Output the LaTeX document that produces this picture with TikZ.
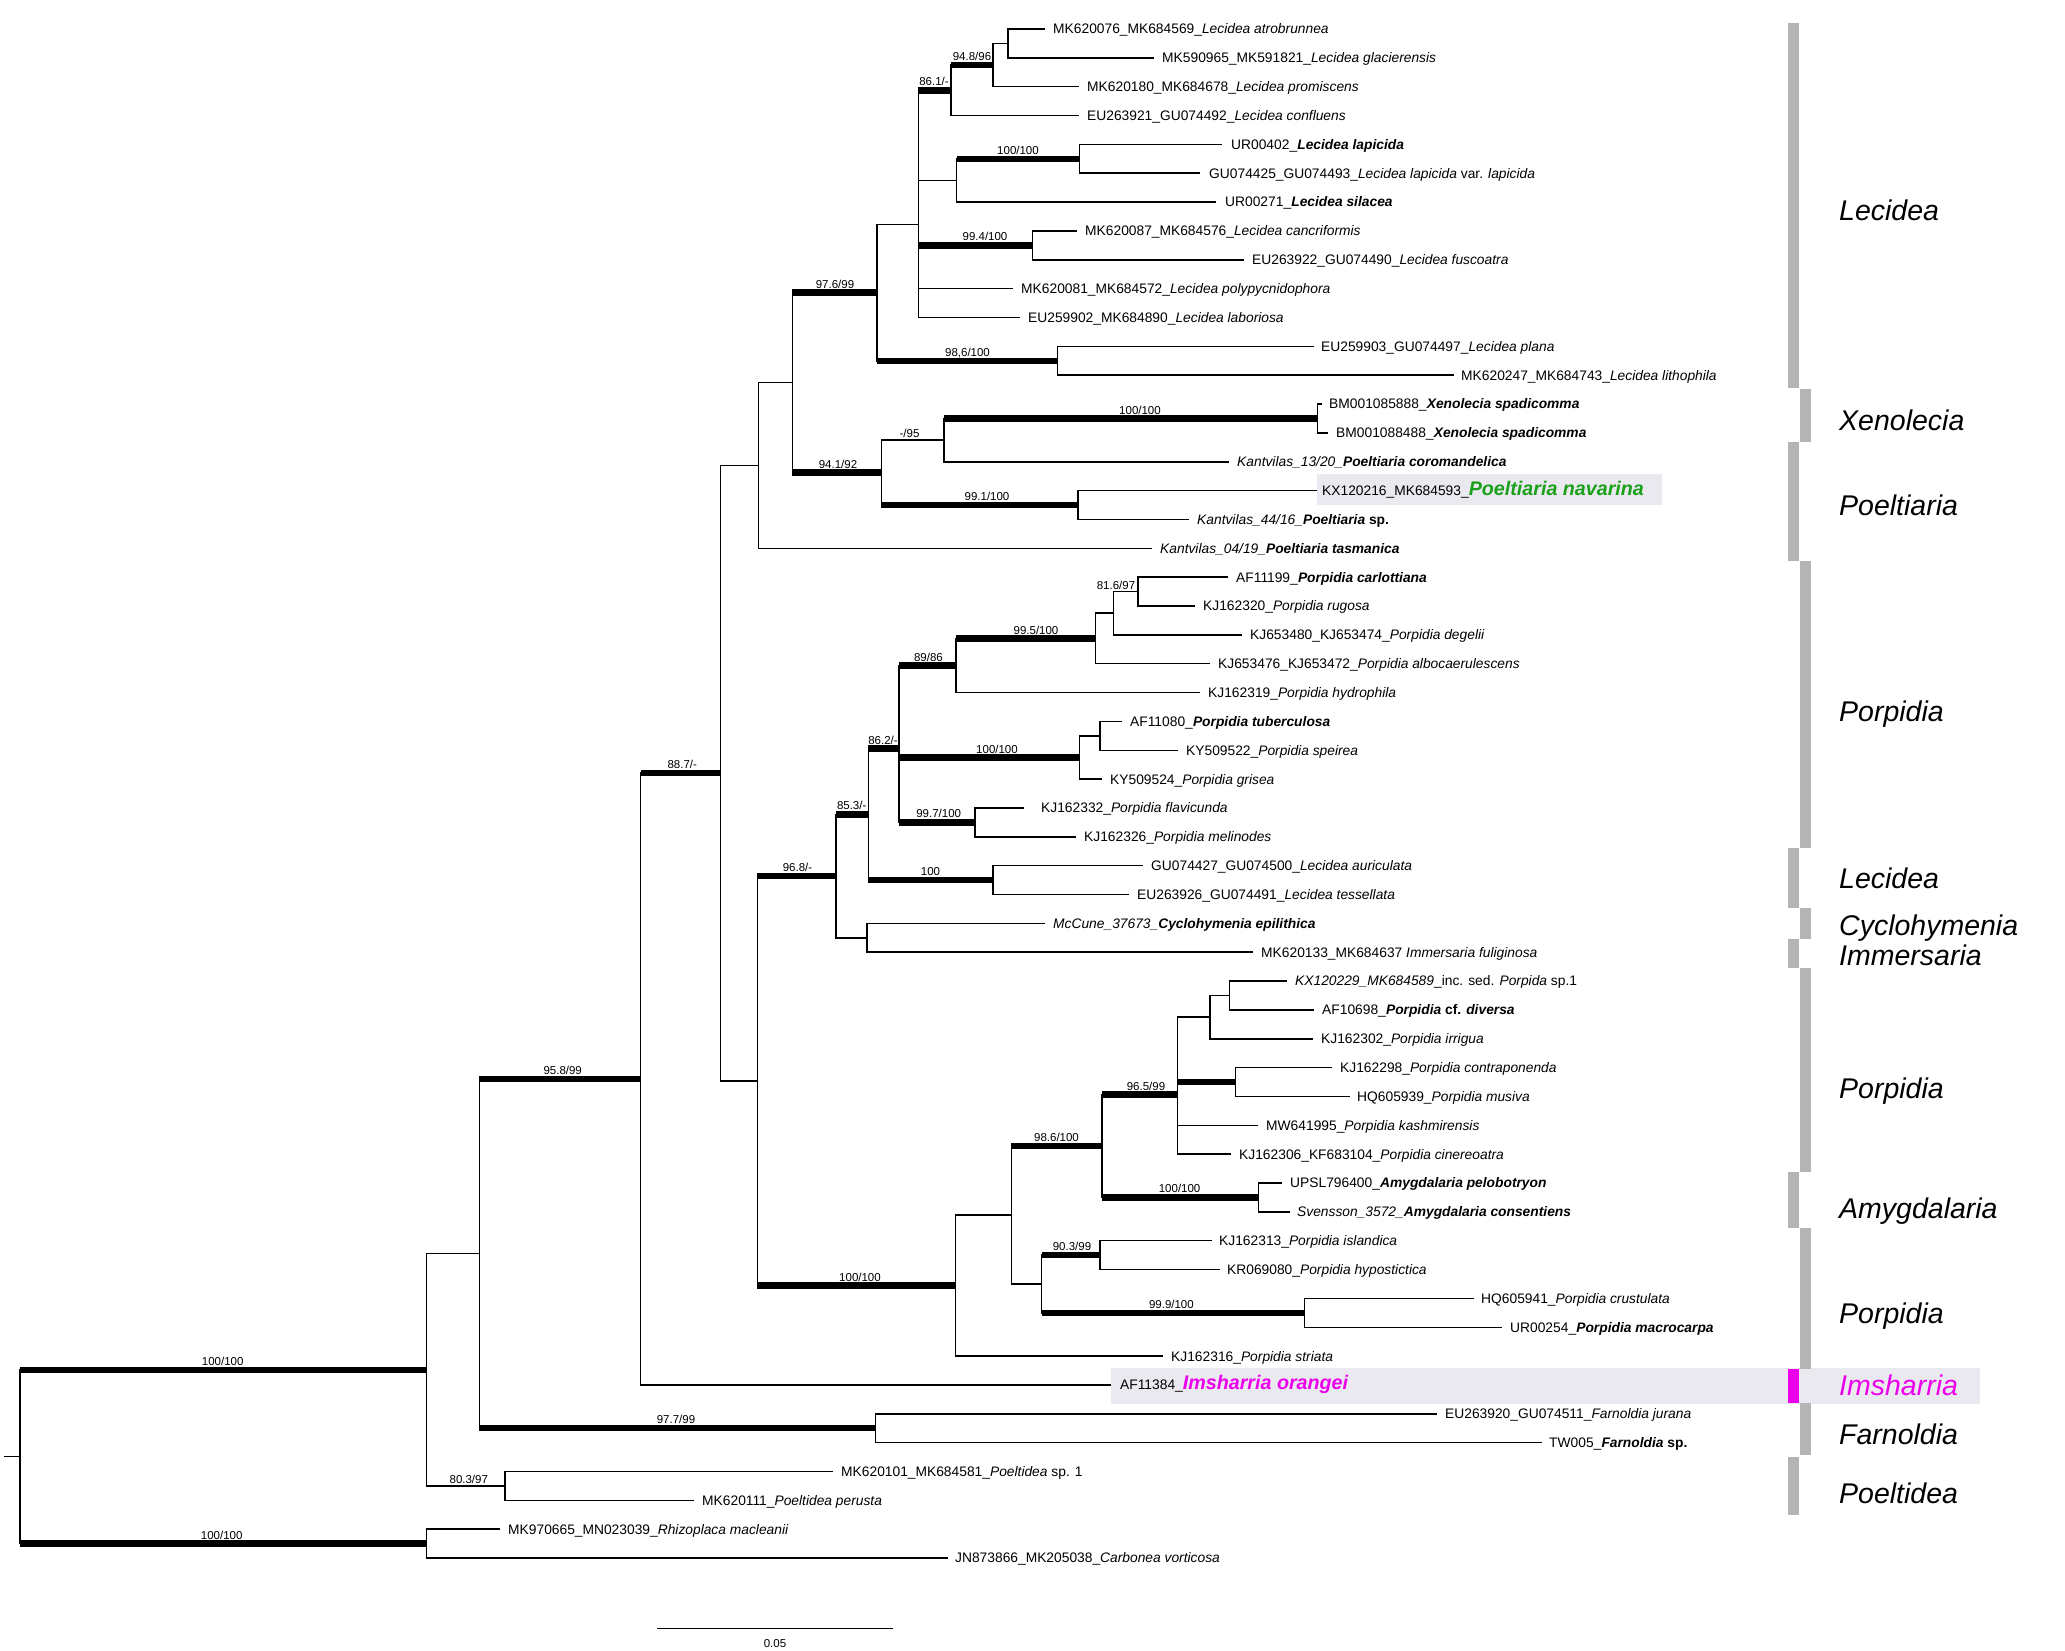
\documentclass[tikz,border=0pt]{standalone}
\usepackage{fontspec}
\setmainfont{Liberation Sans}
\usetikzlibrary{calc}
\definecolor{hlgray}{RGB}{233,233,239}
\definecolor{bargray}{RGB}{180,180,180}
\definecolor{mag}{RGB}{236,0,236}
\definecolor{grn}{RGB}{26,160,26}
\newcommand\bfit[1]{\textbf{\textit{#1}}}
\newcommand\leafx[6]{\coordinate (t#1) at (#3,#2); \draw[tl] (#5) |- (t#1); \node[leaf] (l#1) at (#4,#2+4.9) {#6};}
\newcommand\eN[2]{\draw[tl] (#1) |- (#2);}
\newcommand\eT[2]{\draw[tl] (#1) |- (#2); \draw[tk] (#1 |- #2) -- (#2);}
\newcommand\blab[4]{\node[bl] (#1) at (#2,#3) {#4};}
\newcommand\clab[3]{\node[clade] (#1) at (1839,#2) {#3};}
\begin{document}
\begin{tikzpicture}[x=1pt,y=-1pt,
  tl/.style={line width=1.5pt},
  tk/.style={line width=6.5pt},
  leaf/.style={anchor=base west, inner sep=0pt, font=\fontsize{13.8}{16}\selectfont},
  bl/.style={anchor=base, inner sep=0pt, font=\fontsize{11.5}{13}\selectfont},
  clade/.style={anchor=base west, inner sep=0pt, font=\fontsize{28.5}{32}\selectfont\itshape},
  bar/.style={fill=bargray, draw=none},
  hl/.style={fill=hlgray, draw=none}]
\useasboundingbox (0,0) rectangle (2065,1651);
% highlight boxes
\fill[hl] (1317,474.3) rectangle (1662,505);
\fill[hl] (1111,1367.7) rectangle (1980,1404);
% clade bars
\fill[bar] (1788,23.3) rectangle (1799,388.3);
\fill[bar] (1800,389.3) rectangle (1811,441.7);
\fill[bar] (1788,441.7) rectangle (1799,561);
\fill[bar] (1800,561) rectangle (1811,847.7);
\fill[bar] (1788,847.7) rectangle (1799,908.3);
\fill[bar] (1800,908.3) rectangle (1811,939);
\fill[bar] (1788,939) rectangle (1799,967.7);
\fill[bar] (1800,967.7) rectangle (1811,1171.7);
\fill[bar] (1788,1171.7) rectangle (1799,1227.7);
\fill[bar] (1800,1227.7) rectangle (1811,1369);
\fill[mag] (1788,1369) rectangle (1799,1403);
\fill[bar] (1800,1403) rectangle (1811,1455);
\fill[bar] (1788,1457) rectangle (1799,1515);
% internal nodes
\coordinate (stub) at (4,1456.7);
\coordinate (root) at (20,1456.7);
\coordinate (nAS) at (426.7,1369.8);
\coordinate (nAT) at (426.7,1543.6);
\coordinate (nAQ) at (479.3,1253.6);
\coordinate (nAR) at (505,1485.9);
\coordinate (nAO) at (640.7,1079);
\coordinate (nAP) at (875.7,1428.2);
\coordinate (nAN) at (720.7,773.1);
\coordinate (nAM) at (757.3,1080.8);
\coordinate (nO) at (758.4,465.45);
\coordinate (nN) at (792.3,382.6);
\coordinate (nI) at (877.2,292.6);
\coordinate (nG) at (918.4,224.46);
\coordinate (nC) at (950.8,90.3);
\coordinate (nB) at (993,65.06);
\coordinate (nA) at (1008,43.43);
\coordinate (nE) at (956.7,180.45);
\coordinate (nD) at (1079.3,158.8);
\coordinate (nF) at (1032.3,245.4);
\coordinate (nH) at (1057.5,360.78);
\coordinate (nM) at (881.4,472.6);
\coordinate (nK) at (944.2,440.1);
\coordinate (nJ) at (1317.6,418.48);
\coordinate (nL) at (1077.9,505.03);
\coordinate (nAA) at (836,876.05);
\coordinate (nY) at (868.4,814.3);
\coordinate (nW) at (899,748.45);
\coordinate (nS) at (956,665.5);
\coordinate (nR) at (1095.7,638.45);
\coordinate (nQ) at (1113.6,613.2);
\coordinate (nP) at (1138,591.6);
\coordinate (nU) at (1079.3,757.45);
\coordinate (nT) at (1100,735.8);
\coordinate (nV) at (975,822.4);
\coordinate (nX) at (993,880.1);
\coordinate (nZ) at (867,937.8);
\coordinate (nAL) at (955.7,1285.55);
\coordinate (nAK) at (1011.4,1215);
\coordinate (nAG) at (1102,1146);
\coordinate (nAE) at (1177.7,1094.6);
\coordinate (nAC) at (1210,1017.1);
\coordinate (nAB) at (1229.5,995.45);
\coordinate (nAD) at (1235.4,1082.0);
\coordinate (nAF) at (1258.6,1197.4);
\coordinate (nAJ) at (1041.5,1284);
\coordinate (nAH) at (1100,1255.1);
\coordinate (nAI) at (1304.7,1312.8);
% internal edges
\draw[tl] (stub) -- (root);
\eT{root}{nAS} \eT{root}{nAT}
\eN{nAS}{nAQ} \eN{nAS}{nAR}
\eT{nAQ}{nAO} \eT{nAQ}{nAP}
\eT{nAO}{nAN}
\eN{nAN}{nO} \eN{nAN}{nAM}
\eN{nO}{nN}
\eT{nN}{nI} \eT{nN}{nM}
\eN{nI}{nG} \eT{nI}{nH}
\eT{nG}{nC} \eN{nG}{nE} \eT{nG}{nF}
\eT{nC}{nB} \eN{nB}{nA}
\eT{nE}{nD}
\eN{nM}{nK} \eT{nM}{nL}
\eT{nK}{nJ}
\eT{nAM}{nAA} \eT{nAM}{nAL}
\eT{nAA}{nY} \eN{nAA}{nZ}
\eT{nY}{nW} \eT{nY}{nX}
\eT{nW}{nS} \eT{nW}{nU} \eT{nW}{nV}
\eT{nS}{nR} \eN{nR}{nQ} \eN{nQ}{nP}
\eN{nU}{nT}
\eN{nAL}{nAK}
\eT{nAK}{nAG} \eN{nAK}{nAJ}
\eT{nAG}{nAE} \eT{nAG}{nAF}
\eN{nAE}{nAC} \eT{nAE}{nAD} \eN{nAC}{nAB}
\eT{nAJ}{nAH} \eT{nAJ}{nAI}
% leaves
\leafx{1}{29}{1045}{1053}{nA}{MK620076\_MK684569\_\textit{Lecidea atrobrunnea}}
\leafx{2}{57.85}{1154}{1162}{nA}{MK590965\_MK591821\_\textit{Lecidea glacierensis}}
\leafx{3}{86.7}{1079}{1087}{nB}{MK620180\_MK684678\_\textit{Lecidea promiscens}}
\leafx{4}{115.55}{1079}{1087}{nC}{EU263921\_GU074492\_\textit{Lecidea confluens}}
\leafx{5}{144.4}{1222}{1231}{nD}{UR00402\_\bfit{Lecidea lapicida}}
\leafx{6}{173.25}{1200}{1209}{nD}{GU074425\_GU074493\_\textit{Lecidea lapicida} var. \textit{lapicida}}
\leafx{7}{202.1}{1216}{1225}{nE}{UR00271\_\bfit{Lecidea silacea}}
\leafx{8}{230.95}{1077}{1085}{nF}{MK620087\_MK684576\_\textit{Lecidea cancriformis}}
\leafx{9}{259.8}{1244}{1252}{nF}{EU263922\_GU074490\_\textit{Lecidea fuscoatra}}
\leafx{10}{288.65}{1013}{1021}{nG}{MK620081\_MK684572\_\textit{Lecidea polypycnidophora}}
\leafx{11}{317.5}{1020}{1028}{nG}{EU259902\_MK684890\_\textit{Lecidea laboriosa}}
\leafx{12}{346.35}{1314}{1321}{nH}{EU259903\_GU074497\_\textit{Lecidea plana}}
\leafx{13}{375.2}{1454}{1461}{nH}{MK620247\_MK684743\_\textit{Lecidea lithophila}}
\leafx{14}{404.05}{1322}{1329}{nJ}{BM001085888\_\bfit{Xenolecia spadicomma}}
\leafx{15}{432.9}{1328}{1336}{nJ}{BM001088488\_\bfit{Xenolecia spadicomma}}
\leafx{16}{461.75}{1229}{1237}{nK}{\textit{Kantvilas\_13/20\_}\bfit{Poeltiaria coromandelica}}
\leafx{17}{490.6}{1317}{1322}{nL}{KX120216\_MK684593\_{\color{grn}\fontsize{19.7}{22}\selectfont\bfit{Poeltiaria navarina}}}
\leafx{18}{519.45}{1189}{1197}{nL}{\textit{Kantvilas\_44/16\_}\textbf{\textit{Poeltiaria} sp.}}
\leafx{19}{548.3}{1152}{1160}{nO}{\textit{Kantvilas\_04/19\_}\bfit{Poeltiaria tasmanica}}
\leafx{20}{577.15}{1228}{1236}{nP}{AF11199\_\bfit{Porpidia carlottiana}}
\leafx{21}{606}{1195}{1203}{nP}{KJ162320\_\textit{Porpidia rugosa}}
\leafx{22}{634.85}{1242}{1250}{nQ}{KJ653480\_KJ653474\_\textit{Porpidia degelii}}
\leafx{23}{663.7}{1210}{1218}{nR}{KJ653476\_KJ653472\_\textit{Porpidia albocaerulescens}}
\leafx{24}{692.55}{1200}{1208}{nS}{KJ162319\_\textit{Porpidia hydrophila}}
\leafx{25}{721.4}{1122}{1130}{nT}{AF11080\_\bfit{Porpidia tuberculosa}}
\leafx{26}{750.25}{1178}{1186}{nT}{KY509522\_\textit{Porpidia speirea}}
\leafx{27}{779.1}{1102}{1110}{nU}{KY509524\_\textit{Porpidia grisea}}
\leafx{28}{807.95}{1024}{1041}{nV}{KJ162332\_\textit{Porpidia flavicunda}}
\leafx{29}{836.8}{1076}{1084}{nV}{KJ162326\_\textit{Porpidia melinodes}}
\leafx{30}{865.65}{1143}{1151}{nX}{GU074427\_GU074500\_\textit{Lecidea auriculata}}
\leafx{31}{894.5}{1129}{1137}{nX}{EU263926\_GU074491\_\textit{Lecidea tessellata}}
\leafx{32}{923.35}{1045}{1053}{nZ}{\textit{McCune\_37673\_}\bfit{Cyclohymenia epilithica}}
\leafx{33}{952.2}{1253}{1261}{nZ}{MK620133\_MK684637 \textit{Immersaria fuliginosa}}
\leafx{34}{981.05}{1287}{1295}{nAB}{\textit{KX120229\_MK684589}\_inc. sed. \textit{Porpida} sp.1}
\leafx{35}{1009.9}{1314}{1322}{nAB}{AF10698\_\textbf{\textit{Porpidia} cf. \textit{diversa}}}
\leafx{36}{1038.75}{1313}{1321}{nAC}{KJ162302\_\textit{Porpidia irrigua}}
\leafx{37}{1067.6}{1332}{1340}{nAD}{KJ162298\_\textit{Porpidia contraponenda}}
\leafx{38}{1096.45}{1350}{1357}{nAD}{HQ605939\_\textit{Porpidia musiva}}
\leafx{39}{1125.3}{1258}{1266}{nAE}{MW641995\_\textit{Porpidia kashmirensis}}
\leafx{40}{1154.15}{1231}{1239}{nAE}{KJ162306\_KF683104\_\textit{Porpidia cinereoatra}}
\leafx{41}{1183}{1282}{1290}{nAF}{UPSL796400\_\bfit{Amygdalaria pelobotryon}}
\leafx{42}{1211.85}{1290}{1297}{nAF}{\textit{Svensson\_3572\_}\bfit{Amygdalaria consentiens}}
\leafx{43}{1240.7}{1212}{1219}{nAH}{KJ162313\_\textit{Porpidia islandica}}
\leafx{44}{1269.55}{1220}{1227}{nAH}{KR069080\_\textit{Porpidia hypostictica}}
\leafx{45}{1298.4}{1474}{1481}{nAI}{HQ605941\_\textit{Porpidia crustulata}}
\leafx{46}{1327.25}{1502}{1510}{nAI}{UR00254\_\bfit{Porpidia macrocarpa}}
\leafx{47}{1356.1}{1163}{1171}{nAL}{KJ162316\_\textit{Porpidia striata}}
\leafx{48}{1384.95}{1111}{1120}{nAO}{AF11384\_{\color{mag}\fontsize{19.7}{22}\selectfont\bfit{Imsharria orangei}}}
\leafx{49}{1413.8}{1437}{1445}{nAP}{EU263920\_GU074511\_\textit{Farnoldia jurana}}
\leafx{50}{1442.65}{1542}{1549}{nAP}{TW005\_\textbf{\textit{Farnoldia} sp.}}
\leafx{51}{1471.5}{833}{841}{nAR}{MK620101\_MK684581\_\textit{Poeltidea} sp. 1}
\leafx{52}{1500.35}{694}{702}{nAR}{MK620111\_\textit{Poeltidea perusta}}
\leafx{53}{1529.2}{500}{508}{nAT}{MK970665\_MN023039\_\textit{Rhizoplaca macleanii}}
\leafx{54}{1558.05}{948}{955}{nAT}{JN873866\_MK205038\_\textit{Carbonea vorticosa}}
% branch support labels
\blab{b1}{222.7}{1365.3}{100/100}
\blab{b2}{221.7}{1539.1}{100/100}
\blab{b3}{468.8}{1483.4}{80.3/97}
\blab{b4}{562.7}{1074.5}{95.8/99}
\blab{b5}{676}{1423.7}{97.7/99}
\blab{b6}{682.3}{768.6}{88.7/-}
\blab{b7}{835}{288.1}{97.6/99}
\blab{b8}{838}{468.1}{94.1/92}
\blab{b9}{967.5}{356.3}{98,6/100}
\blab{b10}{934}{85.8}{86.1/-}
\blab{b11}{985}{240.9}{99.4/100}
\blab{b12}{972}{60.6}{94.8/96}
\blab{b13}{1018}{154.3}{100/100}
\blab{b14}{909.5}{437.6}{-/95}
\blab{b15}{987}{500.5}{99.1/100}
\blab{b16}{1140}{414}{100/100}
\blab{b17}{797.5}{871.6}{96.8/-}
\blab{b18}{860}{1281}{100/100}
\blab{b19}{851.7}{809.8}{85.3/-}
\blab{b20}{883}{744}{86.2/-}
\blab{b21}{930.5}{875.6}{100}
\blab{b22}{928.4}{661}{89/86}
\blab{b23}{997}{753}{100/100}
\blab{b24}{938.7}{817.9}{99.7/100}
\blab{b25}{1036}{634}{99.5/100}
\blab{b26}{1116}{589.1}{81.6/97}
\blab{b27}{1056.5}{1141.5}{98.6/100}
\blab{b28}{1146}{1090.1}{96.5/99}
\blab{b29}{1179.6}{1192.9}{100/100}
\blab{b30}{1072}{1250.6}{90.3/99}
\blab{b31}{1171.4}{1308.3}{99.9/100}
% scale bar
\coordinate (sb1) at (657,1628.3);
\coordinate (sb2) at (893,1628.3);
\draw[tl] (sb1) -- (sb2);
\blab{sbl}{775}{1647.4}{0.05}
% clade labels
\clab{c1}{220.2}{Lecidea}
\clab{c2}{430.2}{Xenolecia}
\clab{c3}{515.2}{Poeltiaria}
\clab{c4}{721.7}{Porpidia}
\clab{c5}{888.2}{Lecidea}
\clab{c6}{935.2}{Cyclohymenia}
\clab{c7}{965.2}{Immersaria}
\clab{c8}{1098.2}{Porpidia}
\clab{c9}{1218.2}{Amygdalaria}
\clab{c10}{1323.2}{Porpidia}
\clab{c11}{1395.2}{\color{mag}Imsharria}
\clab{c12}{1444.2}{Farnoldia}
\clab{c13}{1503.2}{Poeltidea}
\end{tikzpicture}
\end{document}
